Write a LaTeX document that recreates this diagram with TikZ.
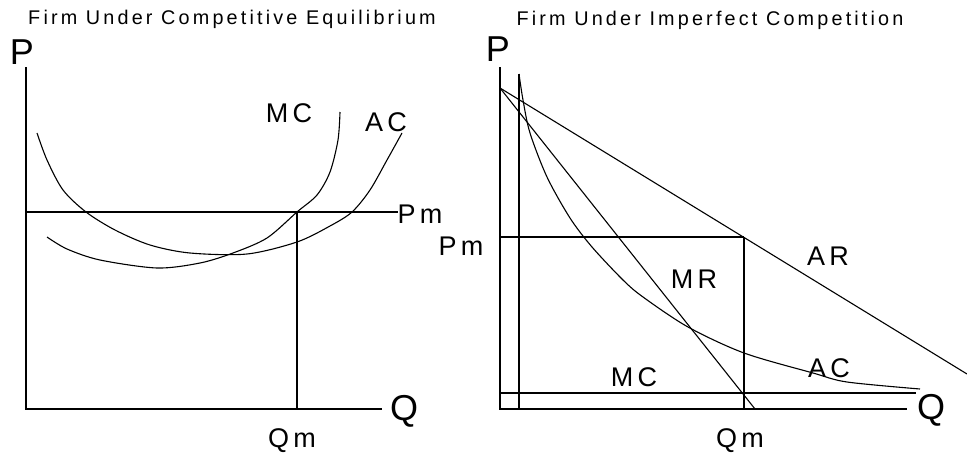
\documentclass[tikz,border=0pt]{standalone}
\usepackage{fontspec}
\setmainfont{Liberation Sans}
\newfontfamily\spaced[LetterSpace=16]{Liberation Sans}
\begin{document}
\begin{tikzpicture}[x=1pt,y=-1pt,
  ln/.style={line width=1.1pt,black},
  cv/.style={line width=1.1pt,black,smooth,tension=0.5},
  ttl/.style={font=\spaced\fontsize{19.8}{21}\selectfont,inner sep=0pt},
  lbl/.style={font=\spaced\fontsize{27}{28}\selectfont,inner sep=0pt},
  ax/.style={font=\fontsize{36}{36}\selectfont,inner sep=0pt}]
\useasboundingbox (0,0) rectangle (967,455);
% ---------- left panel ----------
\node[ttl] (t1) at (232,19) {Firm Under Competitive Equilibrium};
\node[ax] (p1) at (22,52) {P};
\node[ax] (q1) at (404,411) {Q};
\draw[ln] (26,67) -- (26,409) -- (382,409);
\draw[ln] (26,212) -- (398,212);
\draw[ln] (297,212) -- (297,409);
\node[lbl] (pm1) at (420,214) {Pm};
\node[lbl] (qm1) at (292,441) {Qm};
\node[lbl] (mc1) at (289,113) {MC};
\node[lbl] (ac1) at (386,122) {AC};
% AC left
\draw[cv] plot coordinates {(37,133) (47,160) (63,190) (86,212) (115,230) (150,245) (190,253) (247,254) (297,242) (330,226) (352,212) (370,190) (387,160) (402,133)};
% MC left
\draw[cv] plot coordinates {(47,237) (67,249) (100,260) (157,268) (200,263) (233,253) (267,238) (297,212) (317,195) (330,172) (338,140) (340,112)};
% ---------- right panel ----------
\node[ttl] (t2) at (710,20) {Firm Under Imperfect Competition};
\node[ax] (p2) at (498,49) {P};
\node[ax] (q2) at (931,410) {Q};
\draw[ln] (500,67) -- (500,409) -- (907,409);
\draw[ln] (519,74) -- (519,409);
\draw[ln] (500,393) -- (916,393);
\draw[ln] (500,237) -- (744,237);
\draw[ln] (744,237) -- (744,409);
% AR and MR
\draw[ln] (500,88) -- (967,374);
\draw[ln] (500,88) -- (755,409);
% AC right
\draw[cv] plot coordinates {(519,74) (523,100) (530,133) (547,177) (570,218) (592,247) (623,280) (643,297) (688,327) (744,353) (813,373) (847,382) (920,389)};
\node[lbl] (pm2) at (461,246) {Pm};
\node[lbl] (qm2) at (740,441) {Qm};
\node[lbl] (ar) at (828,256) {AR};
\node[lbl] (mr) at (694,279) {MR};
\node[lbl] (ac2) at (829,368) {AC};
\node[lbl] (mc2) at (634,377) {MC};
\end{tikzpicture}
\end{document}
